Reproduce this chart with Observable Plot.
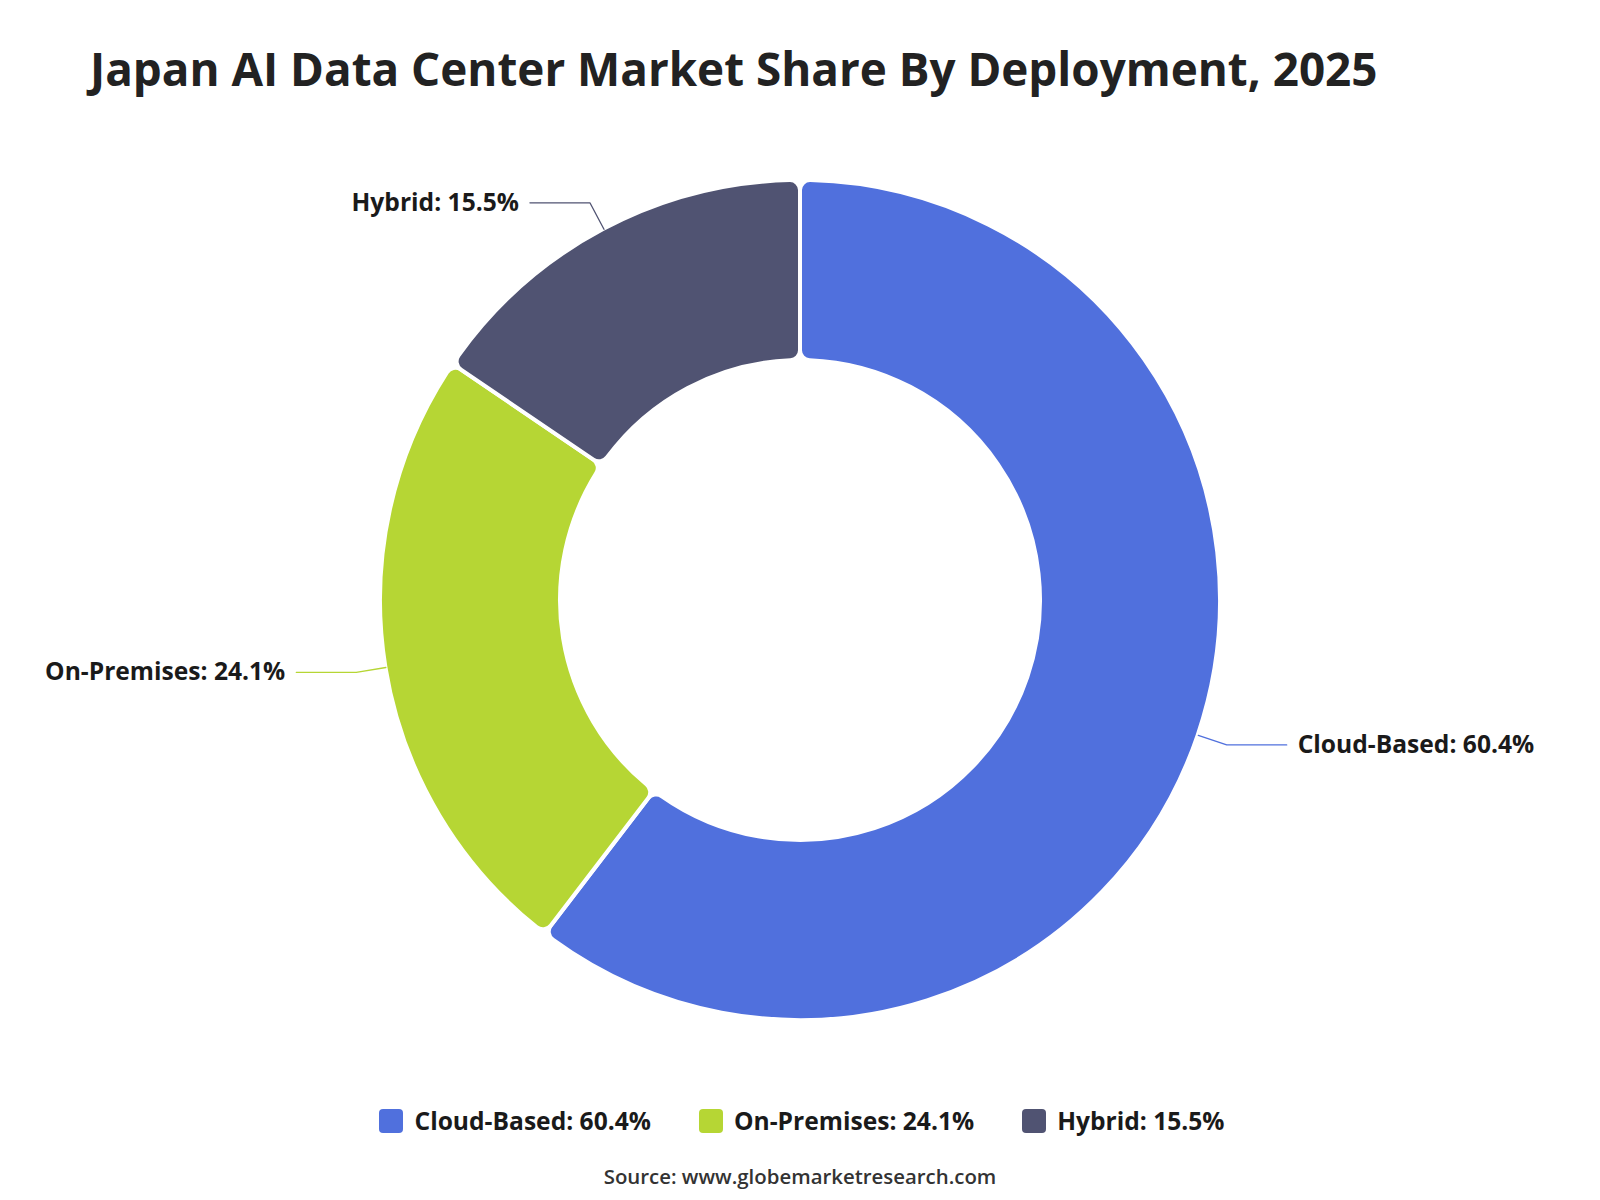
<!DOCTYPE html>
<html>
<head>
<meta charset="utf-8">
<script src="https://cdn.jsdelivr.net/npm/d3@7"></script>
<script src="https://cdn.jsdelivr.net/npm/@observablehq/plot@0.6"></script>
<style>
  body { margin: 0; background: #fff; }
  #page { position: relative; width: 1600px; height: 1200px; overflow: hidden; font-family: "Open Sans", sans-serif; }
  #title { position: absolute; left: 90px; top: 45px; font-size: 45.8px; font-weight: 700; line-height: 46px; color: #222; white-space: nowrap; }
  #chart { position: absolute; left: 0; top: 130px; }
  #legend { position: absolute; left: 2px; top: 1109px; width: 1600px; display: flex; justify-content: center; }
  #legend .lg-swatches-wrap { min-height: 0; margin: 0; justify-content: center; }
  #legend .lg-swatch { margin-right: 48px; line-height: 24px; color: #1a1a1a; }
  #legend .lg-swatch:last-child { margin-right: 0; }
  #legend .lg-swatch > svg { margin-right: 11px; }
  #legend .lg-swatch rect { rx: 4px; ry: 4px; }
  #source { position: absolute; left: 0; width: 1600px; top: 1166px; text-align: center; font-size: 20.4px; font-weight: 600; line-height: 20px; color: #333; }
</style>
</head>
<body>
<div id="page">
  <div id="title">Japan AI Data Center Market Share By Deployment, 2025</div>
  <div id="chart"></div>
  <div id="legend"></div>
  <div id="source">Source: www.globemarketresearch.com</div>
</div>
<script>
// Deployment segments and their share of the market (%)
const categories = ["Cloud-Based", "On-Premises", "Hybrid"];
const shares = [60.4, 24.1, 15.5];
const colors = ["#5070dd", "#b6d634", "#505372"];

// Ring geometry in chart units (1 unit = 1 px)
const innerRadius = 240;
const outerRadius = 420;
const leaderRadial = 30;
const leaderHorizontal = 60;
const labelGap = 11;

const rows = categories.map((category, i) => ({
  category,
  share: shares[i],
  label: `${category}: ${shares[i].toFixed(1)}%`
}));

// Slices start at 12 o'clock and run clockwise
const slices = d3.pie().sort(null).value(d => d.share)(rows);

// Leader lines: from the ring edge outward, then horizontally toward the label
const leaderPoints = [];
const labelRows = [];
for (const s of slices) {
  const a = (s.startAngle + s.endAngle) / 2;
  const sx = Math.sin(a), sy = -Math.cos(a);
  const side = sx >= 0 ? 1 : -1;
  const bx = (outerRadius + leaderRadial) * sx;
  const by = (outerRadius + leaderRadial) * sy;
  leaderPoints.push({category: s.data.category, x: outerRadius * sx, y: outerRadius * sy});
  leaderPoints.push({category: s.data.category, x: bx, y: by});
  leaderPoints.push({category: s.data.category, x: bx + side * leaderHorizontal, y: by});
  labelRows.push({
    category: s.data.category,
    label: s.data.label,
    side,
    x: bx + side * (leaderHorizontal + labelGap),
    y: by
  });
}

// Donut ring drawn with d3.arc, positioned through the plot's x/y scales
function donutRing(index, scales) {
  const cx = scales.x(0), cy = scales.y(0);
  const k = scales.x(1) - scales.x(0);
  const arc = d3.arc()
    .innerRadius(innerRadius * k)
    .outerRadius(outerRadius * k)
    .cornerRadius(10 * k);
  const g = d3.create("svg:g").attr("transform", `translate(${cx},${cy})`);
  g.selectAll("path")
    .data(slices)
    .join("path")
    .attr("d", arc)
    .attr("fill", d => scales.color(d.data.category))
    .attr("stroke", "#fff")
    .attr("stroke-width", 4)
    .attr("stroke-linejoin", "round");
  return g.node();
}

const labelFont = {fontFamily: "Open Sans", fontSize: 24.6, fontWeight: 700, fill: "#1a1a1a"};

const chart = Plot.plot({
  width: 1600,
  height: 940,
  margin: 0,
  style: {fontFamily: "Open Sans", background: "#fff"},
  x: {domain: [-800, 800], range: [0, 1600], axis: null},
  y: {domain: [-470, 470], range: [0, 940], axis: null},
  color: {domain: categories, range: colors},
  marks: [
    donutRing,
    Plot.line(leaderPoints, {x: "x", y: "y", z: "category", stroke: "category", strokeWidth: 1.3}),
    Plot.text(labelRows.filter(d => d.side > 0), {x: "x", y: "y", text: "label", textAnchor: "start", ...labelFont}),
    Plot.text(labelRows.filter(d => d.side < 0), {x: "x", y: "y", text: "label", textAnchor: "end", ...labelFont})
  ]
});
document.getElementById("chart").append(chart);

const legend = Plot.legend({
  color: {type: "ordinal", domain: rows.map(d => d.label), range: colors},
  swatchSize: 24,
  className: "lg",
  style: {fontFamily: "Open Sans", fontSize: "24.6px", fontWeight: 700, color: "#1a1a1a"}
});
document.getElementById("legend").append(legend);
</script>
</body>
</html>
